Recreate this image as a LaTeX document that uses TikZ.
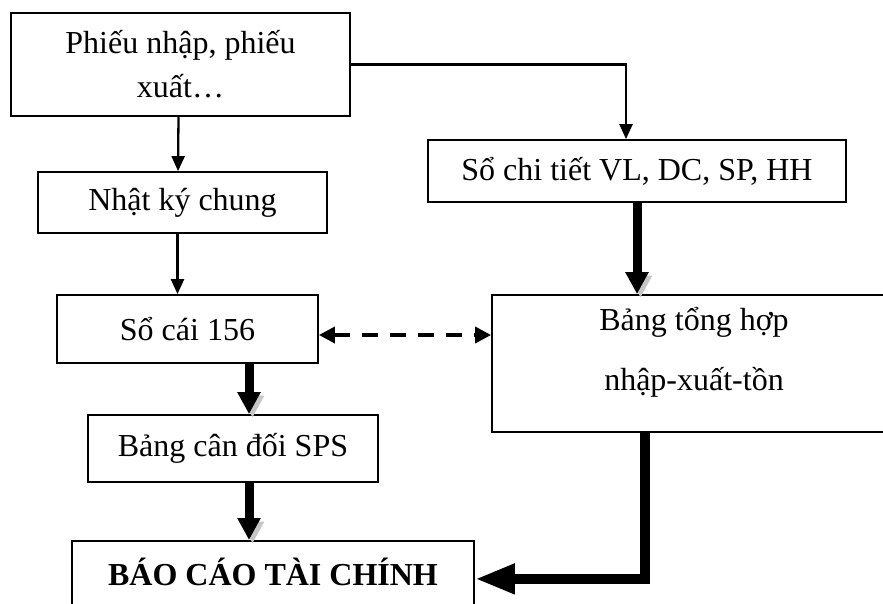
\documentclass[tikz,border=0pt]{standalone}
\usepackage{fontspec}
\setmainfont{Liberation Serif}
\usetikzlibrary{arrows.meta,calc}
\begin{document}
\begin{tikzpicture}[x=1pt,y=-1pt,
  box/.style={draw,line width=1.8pt,inner sep=0pt,font=\fontsize{32}{44}\selectfont,align=center},
  thinarrow/.style={line width=2.3pt,-{Triangle[width=13pt,length=15pt]}},
  dasharrow/.style={line width=3.5pt,dash pattern=on 16pt off 12pt,{Triangle[width=16pt,length=16pt]}-{Triangle[width=16pt,length=16pt]}},
  shadowed/.style={preaction={draw=gray!45,transform canvas={xshift=3.5pt,yshift=-3.5pt}}},
  bigarrow/.style={line width=9pt,shadowed,-{Triangle[width=22pt,length=22pt]}},
  bigarrowh/.style={line width=10pt,shadowed,-{Triangle[width=28pt,length=40pt]}}]
\useasboundingbox (0,0) rectangle (883,604);
\fill[white] (0,0) rectangle (883,604);

\node[box,minimum width=339,minimum height=103] (p1) at (180.5,64.5) {Phiếu nhập, phiếu\\xuất…};
\node[box,minimum width=418,minimum height=62] (sct) at (637,171) {Sổ chi tiết VL, DC, SP, HH};
\node[box,minimum width=289,minimum height=61] (nkc) at (182.5,202.5) {Nhật ký chung};
\node[box,minimum width=261,minimum height=68] (sc) at (187.5,329) {Sổ cái 156};
\node[box,minimum width=404,minimum height=137] (bth) at (694,363.5) {};
\node[inner sep=0pt,font=\fontsize{32}{60}\selectfont,align=center] (bthtext) at (694,352) {Bảng tổng hợp\\nhập-xuất-tồn};
\node[box,minimum width=290,minimum height=67] (bcd) at (233,448.5) {Bảng cân đối SPS};
\node[box,anchor=north,minimum width=402,text height=45pt,text depth=40pt,font=\fontsize{32}{40}\selectfont\bfseries] (bctc) at (273,540) {BÁO CÁO TÀI CHÍNH};

\draw[thinarrow] (p1.east) -| ($(sct.north)+(-11,0)$);
\draw[thinarrow] ($(p1.south)+(-2,0)$) -- ($(nkc.north)+(-4.5,0)$);
\draw[thinarrow] ($(nkc.south)+(-5,0)$) -- ($(sc.north)+(-10,0)$);
\draw[dasharrow] ($(sc.east)+(0,6)$) -- ($(bth.west)+(0,-28.5)$);

\draw[bigarrow] (sct.south) -- (sct.south |- bth.north);
\draw[bigarrow] ($(sc.south)+(61.5,0)$) -- ($(bcd.north)+(16,0)$);
\draw[bigarrow] ($(bcd.south)+(16,0)$) -- ($(bctc.north)+(-24,0)$);
\draw[bigarrowh] ($(bth.south)+(-49,0)$) |- ($(bctc.east)+(0,-4.5)$);
\end{tikzpicture}
\end{document}
